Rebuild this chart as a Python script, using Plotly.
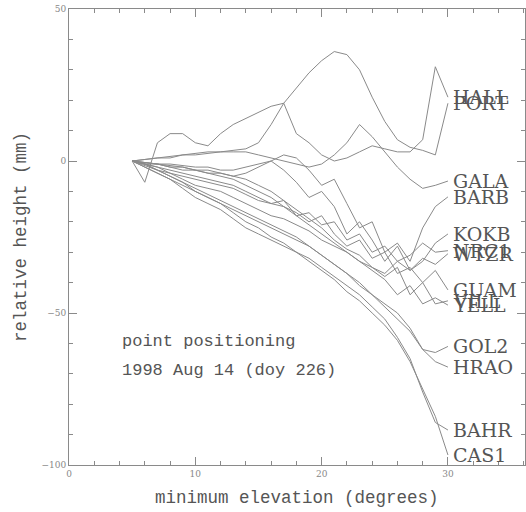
import plotly.graph_objects as go

elev = list(range(5, 31))

stations = ["HALL", "PORT", "GALA", "BARB", "KOKB", "NRC1", "WTZR", "GUAM",
            "VILL", "YELL", "GOL2", "HRAO", "BAHR", "CAS1"]

HALL = [0, 0.5, 1, 1.5, 2, 2.5, 3, 3, 3.5, 4, 6, 12, 19, 9, 6, 2, 0, 1, 3, 5, 4, 3, 3, 7, 31, 21]
PORT = [0, -7, 6, 9, 9, 6, 5, 9, 12, 14, 16, 18, 19, 24, 29, 33, 36, 35, 30, 21, 13, 7, 4.5, 3.5, 2, 19]
GALA = [0, 0.5, 1, 1, 2, 2, 2.5, 3, 3, 3, 2, 1, 0, -1, -2, -1, 2, 6, 12, 8, 3, -2, -6, -9, -8, -6.6]
BARB = [0, -1, -1, -2, -2, -3, -3, -4, -5, -4, -2, 0, 2, 1, -3, -8, -6, -14, -22, -20, -30, -27, -33, -22, -15, -11.8]
KOKB = [0, -0.5, -1, -1, -1.5, -2, -2, -3, -3, -2, -1, 0, -3, -7, -12, -10, -15, -24, -20, -26, -33, -28, -36, -33, -27, -24]
NRC1 = [0, -1, -2, -3, -4, -5, -6, -7, -8, -10, -12, -14, -13, -18, -17, -21, -20, -26, -24, -30, -28, -33, -31, -27, -30, -29.5]
WTZR = [0, -0.5, -1, -1.5, -2, -3, -4, -4, -5, -6, -8, -10, -13, -16, -19, -22, -26, -29, -31, -35, -37, -33, -36, -32, -34, -30.5]
GUAM = [0, -1, -2, -4, -5, -6, -7, -8, -9, -11, -13, -14, -15, -17, -20, -18, -24, -28, -26, -32, -30, -37, -35, -40, -36, -42.4]
VILL = [0, -1, -3, -4, -6, -8, -9, -10, -12, -14, -16, -18, -19, -21, -23, -26, -28, -30, -33, -35, -38, -35, -44, -40, -47, -46]
YELL = [0, -0.5, -1, -2, -3, -3, -4, -5, -6, -8, -10, -12, -15, -18, -21, -24, -27, -30, -33, -36, -39, -44, -41, -47, -45, -47.4]
GOL2 = [0, -2, -4, -6, -8, -10, -12, -14, -16, -18, -20, -22, -24, -26, -28, -31, -34, -37, -40, -44, -48, -52, -56, -62, -63, -61]
HRAO = [0, -1.5, -3, -5, -7, -9, -11, -13, -15, -17, -19, -21, -23, -25, -28, -31, -34, -37, -41, -44, -47, -50, -55, -62, -66, -67.8]
BAHR = [0, -2, -4, -6, -9, -12, -14, -16, -19, -22, -24, -26, -28, -30, -32, -35, -38, -41, -44, -48, -52, -58, -65, -76, -86, -88.5]
CAS1 = [0, -1, -3, -5, -7, -10, -12, -14, -17, -20, -22, -25, -27, -30, -33, -36, -39, -43, -46, -50, -54, -59, -66, -75, -84, -96.7]

series = [HALL, PORT, GALA, BARB, KOKB, NRC1, WTZR, GUAM, VILL, YELL, GOL2, HRAO, BAHR, CAS1]

x_ticks = [0, 10, 20, 30]
y_ticks = [-100, -50, 0, 50]

LINE = "#8a8a8a"
TXT = "#555555"
FONT = "DejaVu Serif"
MONO = "Liberation Mono"

fig = go.Figure()
for name, vals in zip(stations, series):
    fig.add_trace(go.Scatter(x=elev, y=vals, mode="lines", name=name,
                             line=dict(color=LINE, width=1), showlegend=False))

annotations = []
for name, vals in zip(stations, series):
    annotations.append(dict(x=elev[-1], y=vals[-1], xref="x", yref="y", text=name,
                            showarrow=False, xanchor="left", yanchor="middle", xshift=3,
                            font=dict(family=FONT, size=19, color=TXT)))

annotations += [
    dict(x=0.5, y=0, xref="paper", yref="paper", text="minimum elevation (degrees)",
         showarrow=False, xanchor="center", yanchor="middle", yshift=-33,
         font=dict(family=MONO, size=17.5, color=TXT)),
    dict(x=0, y=0.5, xref="paper", yref="paper", text="relative height (mm)",
         showarrow=False, xanchor="center", yanchor="middle", xshift=-48, textangle=-90,
         font=dict(family=MONO, size=17.5, color=TXT)),
    dict(x=4, y=-59.5, xref="x", yref="y", text="point positioning",
         showarrow=False, xanchor="left", yanchor="middle",
         font=dict(family=MONO, size=17, color=TXT)),
    dict(x=4, y=-68.8, xref="x", yref="y", text="1998 Aug 14 (doy 226)",
         showarrow=False, xanchor="left", yanchor="middle",
         font=dict(family=MONO, size=17, color=TXT)),
]

axis_common = dict(showgrid=False, zeroline=False, showline=True, linecolor=LINE, linewidth=1,
                   mirror="allticks", ticks="inside", ticklen=8, tickcolor=LINE, tickwidth=1,
                   tickfont=dict(family=FONT, size=9, color="#888888"))

fig.update_layout(
    width=526, height=512,
    margin=dict(l=69, r=1, t=9, b=47),
    paper_bgcolor="white", plot_bgcolor="white",
    xaxis=dict(range=[0, 36.1], tickvals=x_ticks,
               minor=dict(ticks="inside", ticklen=4, dtick=2, tick0=0, tickcolor=LINE),
               **axis_common),
    yaxis=dict(range=[-100, 50], tickvals=y_ticks,
               minor=dict(ticks="inside", ticklen=4, dtick=10, tick0=0, tickcolor=LINE),
               **axis_common),
    annotations=annotations,
)

fig.write_html("out.html")
